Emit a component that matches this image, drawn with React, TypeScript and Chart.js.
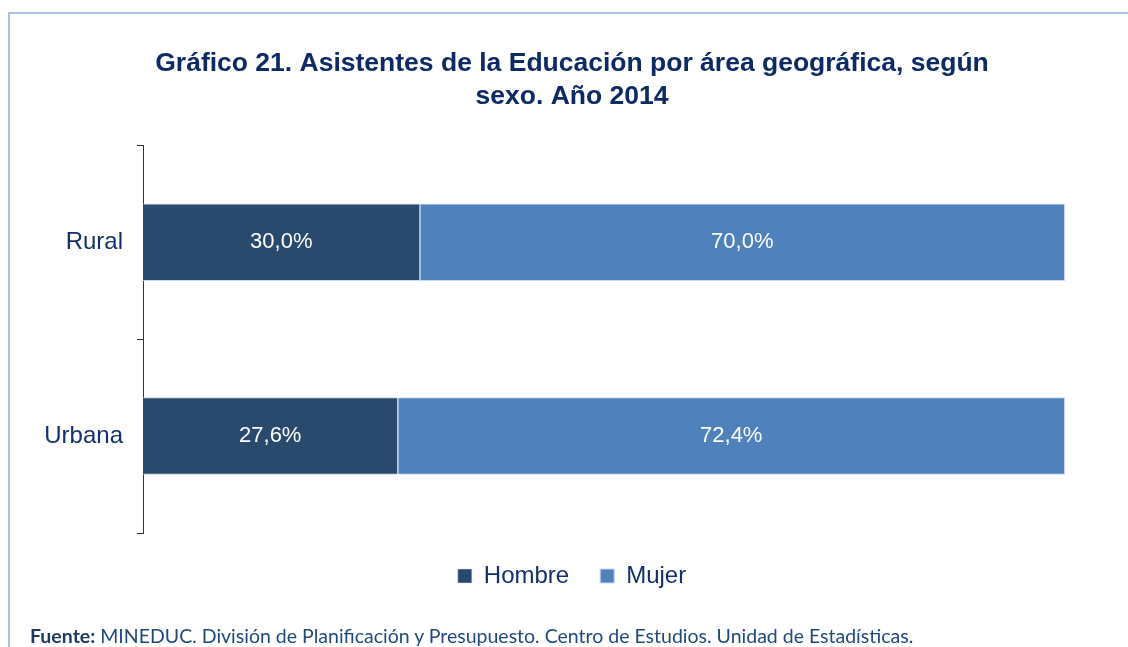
import React, { useEffect, useRef } from "react";
import { Chart, registerables } from "chart.js";

Chart.register(...registerables);

const categories = ["Rural", "Urbana"];
const hombreValues = [30.0, 27.6];
const mujerValues = [70.0, 72.4];
const seriesNames = ["Hombre", "Mujer"];
const titleLines = [
  "Gráfico 21. Asistentes de la Educación por área geográfica, según",
  "sexo. Año 2014",
];

const FONT = "'Liberation Sans', Arial, sans-serif";
const fmt = (v: number) => v.toFixed(1).replace(".", ",") + "%";

const dataLabelPlugin = {
  id: "dataLabels",
  afterDatasetsDraw(chart: any) {
    const ctx = chart.ctx;
    ctx.save();
    ctx.fillStyle = "#ffffff";
    ctx.font = "22px " + FONT;
    ctx.textAlign = "center";
    ctx.textBaseline = "middle";
    chart.data.datasets.forEach((ds: any, di: number) => {
      const meta = chart.getDatasetMeta(di);
      meta.data.forEach((bar: any, i: number) => {
        const p = bar.getProps(["x", "y", "base"], true);
        ctx.fillText(fmt(ds.data[i]), (p.x + p.base) / 2, p.y);
      });
    });
    ctx.restore();
  },
};

export default function App() {
  const ref = useRef<HTMLCanvasElement>(null);
  useEffect(() => {
    if (!ref.current) return;
    const chart = new Chart(ref.current, {
      type: "bar",
      data: {
        labels: categories,
        datasets: [
          {
            label: seriesNames[0],
            data: hombreValues,
            backgroundColor: "#2A4A6D",
            borderColor: "#c9d6e8",
            borderWidth: { top: 1, bottom: 1, left: 0, right: 0 },
            borderSkipped: false,
            barPercentage: 0.8,
            categoryPercentage: 0.5,
          },
          {
            label: seriesNames[1],
            data: mujerValues,
            backgroundColor: "#4F81BD",
            borderColor: "#c9d6e8",
            borderWidth: { top: 1, bottom: 1, left: 1, right: 1 },
            borderSkipped: false,
            barPercentage: 0.8,
            categoryPercentage: 0.5,
          },
        ],
      },
      options: {
        indexAxis: "y",
        animation: false,
        responsive: false,
        maintainAspectRatio: false,
        layout: { padding: { left: 16, right: 0, top: 0, bottom: 49 } },
        scales: {
          x: {
            stacked: true,
            min: 0,
            max: 100,
            display: false,
          },
          y: {
            stacked: true,
            grid: {
              offset: true,
              drawOnChartArea: false,
              drawTicks: true,
              tickLength: 6,
              color: "#333333",
            },
            border: { display: true, color: "#333333", width: 1 },
            ticks: {
              color: "#14306B",
              font: { family: FONT, size: 24 },
              padding: 14,
            },
            afterFit: (s: any) => {
              s.width = 127;
            },
          },
          yRight: {
            type: "linear",
            position: "right",
            display: true,
            ticks: { display: false },
            grid: { display: false },
            border: { display: false },
            afterFit: (s: any) => {
              s.width = 63;
            },
          },
        },
        plugins: {
          title: {
            display: true,
            text: titleLines,
            color: "#0D2966",
            font: { family: FONT, size: 26.5, weight: "bold", lineHeight: 1.25 },
            padding: { top: 47, bottom: 32 },
          },
          legend: {
            position: "bottom",
            labels: {
              boxWidth: 14,
              boxHeight: 14,
              padding: 31,
              color: "#14306B",
              font: { family: FONT, size: 24 },
            },
          },
          tooltip: { enabled: false },
        },
      },
      plugins: [dataLabelPlugin],
    });
    return () => chart.destroy();
  }, []);

  return (
    <div style={{ position: "absolute", left: 0, top: 0, width: 1128, height: 647, background: "#fff", overflow: "hidden" }}>
      <div
        style={{
          position: "absolute",
          left: 8,
          top: 12,
          width: 1130,
          height: 700,
          borderLeft: "2px solid #A8C4E8",
          borderTop: "2px solid #A8C4E8",
        }}
      />
      <canvas ref={ref} width={1128} height={647} style={{ position: "absolute", left: 0, top: 0 }} />
      <div
        style={{
          position: "absolute",
          left: 30,
          top: 624,
          fontFamily: "Lato, 'Open Sans', sans-serif",
          fontSize: 19.5,
          lineHeight: "24px",
          color: "#1F497D",
          whiteSpace: "nowrap",
        }}
      >
        <b style={{ color: "#1F3A60" }}>Fuente:</b> MINEDUC. División de Planificación y Presupuesto. Centro de Estudios. Unidad de Estadísticas.
      </div>
    </div>
  );
}
